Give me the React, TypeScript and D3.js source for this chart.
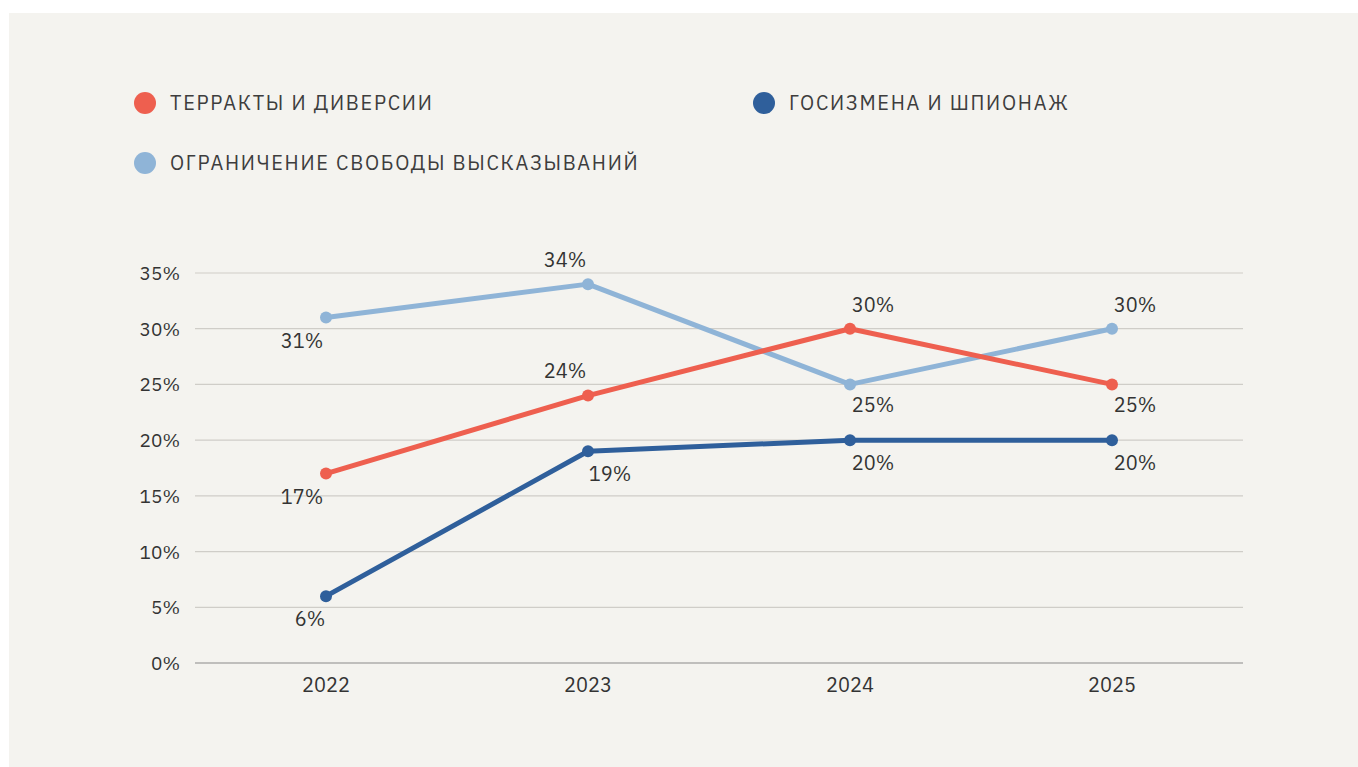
import React from "react";
import * as d3 from "d3";

const years = ["2022", "2023", "2024", "2025"];
const terror = [17, 24, 30, 25];
const treason = [6, 19, 20, 20];
const speech = [31, 34, 25, 30];
const yTicks = [0, 5, 10, 15, 20, 25, 30, 35];

const seriesNames = ["ТЕРРАКТЫ И ДИВЕРСИИ", "ГОСИЗМЕНА И ШПИОНАЖ", "ОГРАНИЧЕНИЕ СВОБОДЫ ВЫСКАЗЫВАНИЙ"];
const colors = ["#ee5f4f", "#2f5f9b", "#8fb4d7"];

// label offsets (dx, dy) relative to point, per series per year
const labelOffsets = [
  [[-24, 30], [-23, -18], [23, -17], [23, 28]],
  [[-16, 30], [22, 30], [23, 30], [23, 30]],
  [[-24, 30], [-23, -17], [23, 28], [23, -17]],
];

export default function App() {
  const W = 1358, H = 767;
  const x = d3.scaleBand().domain(years).range([195, 1243]);
  const y = d3.scaleLinear().domain([0, 35]).range([663, 273]);
  const cx = (yr: string) => (x(yr) as number) + x.bandwidth() / 2;
  const data = [terror, treason, speech];
  const line = d3.line<number>().x((_, i) => cx(years[i])).y((d) => y(d));
  const font = "'IBM Plex Sans', 'Noto Sans', sans-serif";
  const drawOrder = [2, 0, 1];
  const legendPos = [
    [145, 103],
    [764, 103],
    [145, 163],
  ];
  return (
    <svg width={W} height={H} style={{ position: "absolute", left: 0, top: 0 }} fontFamily={font}>
      <rect x={0} y={0} width={W} height={H} fill="#ffffff" />
      <rect x={9} y={13} width={W - 9} height={H - 13} fill="#f4f3ef" />
      {legendPos.map(([lx, ly], i) => (
        <g key={i}>
          <circle cx={lx} cy={ly} r={11} fill={colors[i]} />
          <text x={lx + 25} y={ly + 7} fontSize={20} fill="#3d3d3d" letterSpacing={1.7}>
            {seriesNames[i]}
          </text>
        </g>
      ))}
      {yTicks.map((t) => (
        <g key={t}>
          {t > 0 && (
            <line x1={195} x2={1243} y1={y(t)} y2={y(t)} stroke="#cfcdc8" strokeWidth={1.2} />
          )}
          <text x={180} y={y(t) + 7} textAnchor="end" fontSize={19} fill="#333">
            {t}%
          </text>
        </g>
      ))}
      <line x1={195} x2={1243} y1={y(0)} y2={y(0)} stroke="#8a8a8a" strokeWidth={1.2} />
      {years.map((yr) => (
        <text key={yr} x={cx(yr)} y={y(0) + 29} textAnchor="middle" fontSize={20} fill="#333">
          {yr}
        </text>
      ))}
      {drawOrder.map((si) => (
        <g key={si}>
          <path d={line(data[si]) || ""} fill="none" stroke={colors[si]} strokeWidth={5} strokeLinejoin="round" />
          {data[si].map((v, i) => (
            <circle key={i} cx={cx(years[i])} cy={y(v)} r={6} fill={colors[si]} />
          ))}
        </g>
      ))}
      {drawOrder.map((si) =>
        data[si].map((v, i) => (
          <text
            key={si + "-" + i}
            x={cx(years[i]) + labelOffsets[si][i][0]}
            y={y(v) + labelOffsets[si][i][1]}
            textAnchor="middle"
            fontSize={20}
            fill="#333"
          >
            {v}%
          </text>
        ))
      )}
    </svg>
  );
}
